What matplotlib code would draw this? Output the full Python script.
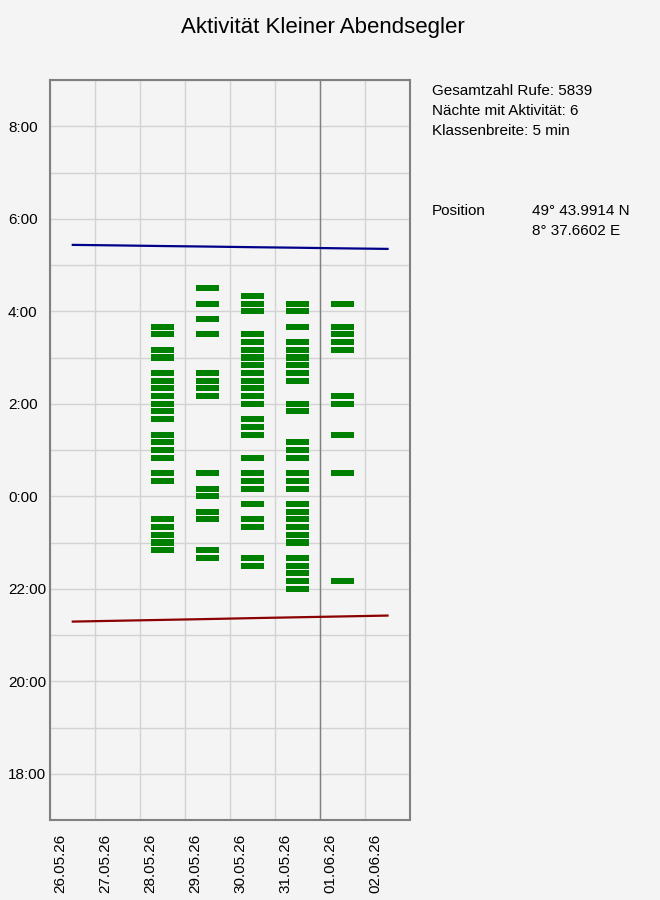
import matplotlib.pyplot as plt
from matplotlib.ticker import MultipleLocator, FixedLocator
from matplotlib.transforms import ScaledTranslation

plt.rcParams['font.family'] = ['Liberation Sans', 'DejaVu Sans']

dates = ['26.05.26', '27.05.26', '28.05.26', '29.05.26',
         '30.05.26', '31.05.26', '01.06.26', '02.06.26']

# Sonnenaufgang / Sonnenuntergang je Nacht
sunrise = ['05:26:06', '05:25:24', '05:24:36', '05:23:54',
           '05:23:06', '05:22:24', '05:21:36', '05:20:54']
sunset = ['21:17:24', '21:18:30', '21:19:36', '21:20:42',
          '21:21:54', '21:23:00', '21:24:06', '21:25:12']

# Klassen mit Aktivitaet je Nacht
calls_2805 = ['22:50', '23:00', '23:10', '23:20', '23:30', '00:20', '00:30',
              '00:50', '01:00', '01:10', '01:20', '01:40', '01:50', '02:00',
              '02:10', '02:20', '02:30', '02:40', '03:00', '03:10', '03:30',
              '03:40']
calls_2905 = ['22:40', '22:50', '23:30', '23:40', '00:00', '00:10', '00:30',
              '02:10', '02:20', '02:30', '02:40', '03:30', '03:50', '04:10',
              '04:30']
calls_3005 = ['22:30', '22:40', '23:20', '23:30', '23:50', '00:10', '00:20',
              '00:30', '00:50', '01:20', '01:30', '01:40', '02:00', '02:10',
              '02:20', '02:30', '02:40', '02:50', '03:00', '03:10', '03:20',
              '03:30', '04:00', '04:10', '04:20']
calls_3105 = ['22:00', '22:10', '22:20', '22:30', '22:40', '23:00', '23:10',
              '23:20', '23:30', '23:40', '23:50', '00:10', '00:20', '00:30',
              '00:50', '01:00', '01:10', '01:50', '02:00', '02:30', '02:40',
              '02:50', '03:00', '03:10', '03:20', '03:40', '04:00', '04:10']
calls_0106 = ['22:10', '00:30', '01:20', '02:00', '02:10', '03:10', '03:20',
              '03:30', '03:40', '04:10']

nights = [(2, calls_2805), (3, calls_2905), (4, calls_3005),
          (5, calls_3105), (6, calls_0106)]

total_calls = 5839
active_nights = 6


def to_hours(s):
    parts = [int(p) for p in s.split(':')]
    h = parts[0] + parts[1] / 60
    if len(parts) > 2:
        h += parts[2] / 3600
    if h >= 12:
        h -= 24
    return h


bg = '#f4f4f4'
fig = plt.figure(figsize=(6.6, 9), dpi=100, facecolor=bg)
ax = fig.add_axes([50.3 / 660, 1 - 820 / 900, (410 - 50.3) / 660, 740 / 900])
ax.set_facecolor(bg)

bar_h = 7.8 / 60
for idx, times in nights:
    ys = [to_hours(t) for t in times]
    ax.bar([idx + 0.5] * len(ys), [bar_h] * len(ys),
           bottom=[y - bar_h / 2 for y in ys], width=0.5,
           color='#008000', zorder=3)

xs = [i + 0.5 for i in range(len(dates))]
ax.plot(xs, [to_hours(t) for t in sunrise], color='#00008b', lw=1.6, zorder=4)
ax.plot(xs, [to_hours(t) for t in sunset], color='#8b0000', lw=1.6, zorder=4)

ax.set_xlim(0, 8)
ax.set_ylim(-7, 9)

ax.xaxis.set_major_locator(FixedLocator(range(len(dates))))
ax.set_xticklabels(dates, rotation=90, ha='left', va='top')
ax.xaxis.set_minor_locator(FixedLocator([8]))

yt = list(range(-6, 9, 2))
ax.yaxis.set_major_locator(FixedLocator(yt))
ax.set_yticklabels(['%d:00' % (h % 24) for h in yt], ha='left')
ax.yaxis.set_minor_locator(MultipleLocator(1))

ax.grid(True, which='both', color='#d3d3d3', lw=1, zorder=0)
ax.set_axisbelow(True)
ax.axvline(6, color='#808080', lw=1, zorder=2)

ax.tick_params(axis='both', which='both', length=0, labelsize=11)
ax.tick_params(axis='y', pad=30.5)
ax.tick_params(axis='x', pad=10)

shift = ScaledTranslation(3 / 100, 0, fig.dpi_scale_trans)
for lab in ax.get_xticklabels():
    lab.set_transform(lab.get_transform() + shift)

for sp in ax.spines.values():
    sp.set_color('#808080')
    sp.set_linewidth(1.5)

fig.text(323 / 660, 1 - 33 / 900, 'Aktivität Kleiner Abendsegler',
         ha='center', va='baseline', fontsize=16)

tx = 432 / 660
fig.text(tx, 1 - 95 / 900, 'Gesamtzahl Rufe: %d' % total_calls,
         va='baseline', fontsize=11)
fig.text(tx, 1 - 115 / 900, 'Nächte mit Aktivität: %d' % active_nights,
         va='baseline', fontsize=11)
fig.text(tx, 1 - 135 / 900, 'Klassenbreite: 5 min',
         va='baseline', fontsize=11)
fig.text(tx, 1 - 215 / 900, 'Position', va='baseline', fontsize=11)
fig.text(532 / 660, 1 - 215 / 900, '49° 43.9914 N', va='baseline', fontsize=11)
fig.text(532 / 660, 1 - 235 / 900, '8° 37.6602 E', va='baseline', fontsize=11)

fig.savefig('out.png', dpi=100, facecolor=bg)
